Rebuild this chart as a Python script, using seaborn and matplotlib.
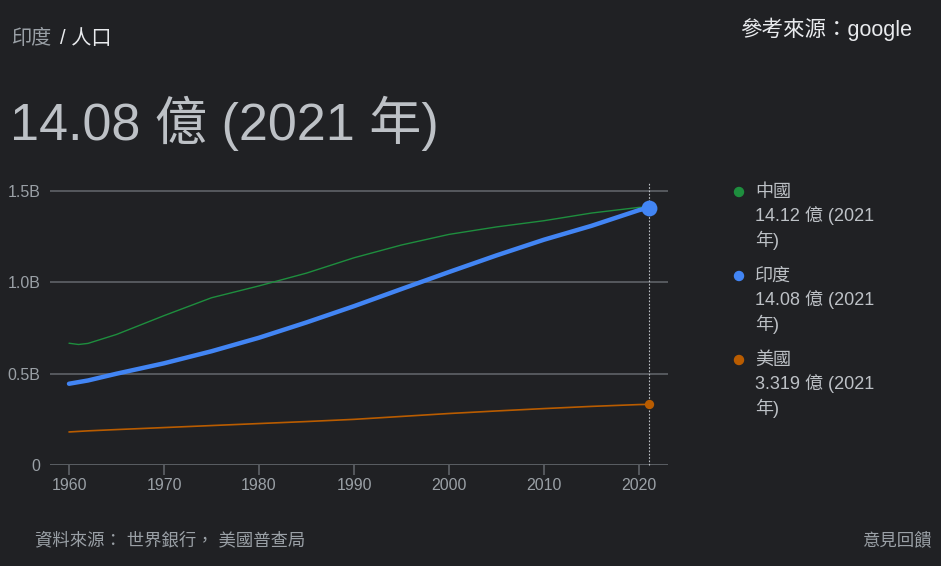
import numpy as np
import pandas as pd
import matplotlib
matplotlib.use('Agg')
import matplotlib.pyplot as plt
from matplotlib.patches import Ellipse
import seaborn as sns

# 數據 (十億人)
years = [1960, 1961, 1962, 1965, 1970, 1975, 1980, 1985, 1990, 1995, 2000, 2005, 2010, 2015, 2020, 2021]
china = [0.667, 0.660, 0.666, 0.715, 0.818, 0.916, 0.981, 1.051, 1.135, 1.205, 1.263, 1.304, 1.338, 1.380, 1.411, 1.412]
india = [0.445, 0.454, 0.463, 0.500, 0.557, 0.623, 0.697, 0.781, 0.870, 0.964, 1.057, 1.148, 1.234, 1.310, 1.396, 1.408]
usa = [0.181, 0.184, 0.187, 0.194, 0.205, 0.216, 0.227, 0.238, 0.250, 0.266, 0.282, 0.296, 0.309, 0.321, 0.331, 0.332]

names = ['中國', '印度', '美國']
values_text = ['14.12 億 (2021', '14.08 億 (2021', '3.319 億 (2021']
colors = ['#1e8e3e', '#4285f4', '#b95c00']
widths = [1.0, 3.2, 1.2]

yticks = [0, 0.5, 1.0, 1.5]
ytick_labels = ['0', '0.5B', '1.0B', '1.5B']
xticks = [1960, 1970, 1980, 1990, 2000, 2010, 2020]

bg = '#202124'
fonts = ['Liberation Sans', 'Noto Sans CJK TC', 'DejaVu Sans']

sns.set_style('dark')
plt.rcParams['font.family'] = fonts

df = pd.DataFrame({'年': years, '中國': china, '印度': india, '美國': usa})
long = df.melt(id_vars='年', var_name='國家', value_name='人口')

fig = plt.figure(figsize=(9.41, 5.66), dpi=100, facecolor=bg)
ax = fig.add_axes([50 / 941, 1 - 465 / 566, 618 / 941, 283 / 566])
ax.set_facecolor(bg)

for yv in yticks:
    ax.axhline(yv, color='#5f6368', lw=1.3 if yv == 0 else 1.2, zorder=1)

for name, c, w in zip(names, colors, widths):
    sub = long[long['國家'] == name]
    sns.lineplot(data=sub, x='年', y='人口', color=c, lw=w, ax=ax, zorder=3)

# 末端點
ax.scatter([years[-1]], [india[-1]], s=130, color=colors[1], zorder=5, linewidths=0)
ax.scatter([years[-1]], [usa[-1]], s=45, color=colors[2], zorder=5, linewidths=0)
ax.plot([years[-1], years[-1]], [0, 1.55], ls=(0, (1.5, 1.5)), color='#bdc1c6', lw=0.8, zorder=2, clip_on=False)

ax.set_xlim(1958, 2023.05)
ax.set_ylim(0, 1.55)
ax.set_xticks(xticks)
ax.set_xticklabels([str(x) for x in xticks])
ax.set_yticks(yticks)
ax.set_yticklabels(ytick_labels)
ax.tick_params(axis='x', colors='#9aa0a6', labelsize=11.5, length=7, width=1.2, color='#5f6368', pad=2,
               bottom=True)
ax.tick_params(axis='y', colors='#9aa0a6', labelsize=11.5, length=0, pad=7)
ax.set_xlabel('')
ax.set_ylabel('')
ax.grid(False)
for s in ax.spines.values():
    s.set_visible(False)

# 標題
fig.text(12 / 941, 1 - 38 / 566, '印度', color='#9aa0a6', fontsize=14.5, va='center', ha='left')
fig.text(60 / 941, 1 - 38 / 566, '/ 人口', color='#e8eaed', fontsize=14.5, va='center', ha='left')
fig.text(10 / 941, 1 - 123 / 566, '14.08 億 (2021 年)', color='#bdc1c6', fontsize=37.5, va='center', ha='left')
fig.text(912 / 941, 1 - 29 / 566, '參考來源：google', color='#e8eaed', fontsize=15.5, va='center', ha='right')

# 圖例
for i, (name, vt, c) in enumerate(zip(names, values_text, colors)):
    y0 = 192 + i * 84
    fig.add_artist(Ellipse((739 / 941, 1 - y0 / 566), 9 / 941, 9 / 566,
                           transform=fig.transFigure, color=c))
    for j, line in enumerate([name, vt, '年)']):
        fig.text(755 / 941, 1 - (y0 + j * 24) / 566, line, color='#bdc1c6', fontsize=13,
                 va='center', ha='left')

# 頁尾
fig.text(35 / 941, 1 - 540 / 566, '資料來源： 世界銀行， 美國普查局', color='#9aa0a6', fontsize=12.5,
         va='center', ha='left')
fig.text(932 / 941, 1 - 540 / 566, '意見回饋', color='#9aa0a6', fontsize=12.5, va='center', ha='right')

fig.savefig('out.png', dpi=100, facecolor=bg)
